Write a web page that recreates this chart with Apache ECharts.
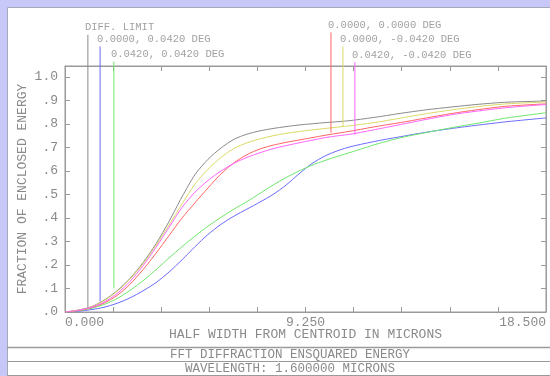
<!DOCTYPE html>
<html>
<head>
<meta charset="utf-8">
<script src="https://cdn.jsdelivr.net/npm/echarts@6/dist/echarts.min.js"></script>
<style>html,body{margin:0;padding:0;background:#c8c8f8;}#c{width:550px;height:376px;}</style>
</head>
<body>
<div id="c"></div>
<script>
// ---- data ----
const xValues   = [0, 0.5, 1, 1.5, 2, 2.5, 3, 3.5, 4, 4.5, 5, 5.5, 6, 6.5, 7, 7.5, 8, 8.5, 9, 9.5, 10, 10.5, 11, 12, 13, 14, 15, 16, 17, 18.5];
const diffLimit = [0, 0.008, 0.022, 0.05, 0.09, 0.143, 0.21, 0.29, 0.385, 0.49, 0.585, 0.65, 0.698, 0.735, 0.757, 0.771, 0.781, 0.789, 0.796, 0.801, 0.806, 0.81, 0.815, 0.83, 0.847, 0.862, 0.874, 0.885, 0.893, 0.898];
const field2    = [0, 0.003, 0.01, 0.02, 0.037, 0.06, 0.09, 0.125, 0.17, 0.222, 0.278, 0.33, 0.373, 0.408, 0.438, 0.468, 0.5, 0.54, 0.588, 0.632, 0.664, 0.687, 0.704, 0.728, 0.748, 0.767, 0.783, 0.797, 0.81, 0.826];
const field3    = [0, 0.005, 0.015, 0.032, 0.057, 0.092, 0.133, 0.18, 0.23, 0.278, 0.323, 0.365, 0.403, 0.438, 0.47, 0.505, 0.54, 0.572, 0.60, 0.625, 0.645, 0.663, 0.68, 0.715, 0.744, 0.766, 0.787, 0.806, 0.826, 0.848];
const field1    = [0, 0.006, 0.018, 0.038, 0.07, 0.118, 0.18, 0.25, 0.325, 0.40, 0.465, 0.528, 0.588, 0.635, 0.67, 0.694, 0.71, 0.722, 0.732, 0.742, 0.752, 0.761, 0.77, 0.79, 0.808, 0.828, 0.847, 0.863, 0.876, 0.886];
const field4    = [0, 0.008, 0.021, 0.048, 0.087, 0.14, 0.205, 0.283, 0.37, 0.46, 0.545, 0.608, 0.658, 0.696, 0.72, 0.737, 0.75, 0.76, 0.768, 0.775, 0.781, 0.787, 0.793, 0.808, 0.827, 0.846, 0.862, 0.876, 0.886, 0.894];
const field5    = [0, 0.007, 0.02, 0.042, 0.078, 0.13, 0.197, 0.275, 0.36, 0.445, 0.51, 0.56, 0.60, 0.633, 0.658, 0.678, 0.695, 0.708, 0.72, 0.731, 0.742, 0.75, 0.757, 0.778, 0.80, 0.822, 0.842, 0.857, 0.87, 0.883];

const seriesNames = ['DIFF. LIMIT', '0.0000, 0.0420 DEG', '0.0420, 0.0420 DEG', '0.0000, 0.0000 DEG', '0.0000, -0.0420 DEG', '0.0420, -0.0420 DEG'];
const seriesColors = ['#8a8a8a', '#6b6bff', '#6ee66e', '#ff6464', '#dada66', '#ff64ff'];
const seriesValues = [diffLimit, field2, field3, field1, field4, field5];

// leader lines for the labels
const leaderX      = [0.88, 1.35, 1.88, 10.23, 10.69, 11.15];
const leaderBottom = [0.02, 0.045, 0.10, 0.763, 0.79, 0.755];
const leaderTop    = [1.18, 1.13, 1.066, 1.19, 1.13, 1.063];

const xTickValues = [0, 9.25, 18.5];
const xTickLabels = ['0.000', '9.250', '18.500'];
const yTickValues = [0, 0.1, 0.2, 0.3, 0.4, 0.5, 0.6, 0.7, 0.8, 0.9, 1.0];
const yTickLabels = ['.0', '.1', '.2', '.3', '.4', '.5', '.6', '.7', '.8', '.9', '1.0'];

const xTitle = 'HALF WIDTH FROM CENTROID IN MICRONS';
const yTitle = 'FRACTION OF ENCLOSED ENERGY';
const footer1 = 'FFT DIFFRACTION ENSQUARED ENERGY';
const footer2 = 'WAVELENGTH: 1.600000 MICRONS';

// ---- chart ----
const FONT = 'Liberation Mono';
const TXT = '#8a8a8a';
const FRAME = '#9a9a9a';

function pick(vals, labels, v) {
  for (let i = 0; i < vals.length; i++) if (Math.abs(vals[i] - v) < 1e-6) return labels[i];
  return '';
}

const curveSeries = seriesValues.map((arr, i) => ({
  type: 'line',
  name: seriesNames[i],
  data: xValues.map((x, j) => [x, arr[j]]),
  symbol: 'none',
  smooth: 0.25,
  lineStyle: { color: seriesColors[i], width: 1 },
  silent: true,
  z: 3
}));

const leaderSeries = leaderX.map((x, i) => ({
  type: 'line',
  data: [[x, leaderBottom[i]], [x, leaderTop[i]]],
  symbol: 'none',
  lineStyle: { color: seriesColors[i], width: 1 },
  clip: false,
  silent: true,
  z: 4
}));

const labelSeries = {
  type: 'scatter',
  data: leaderX.map((x, i) => ({ value: [x, leaderTop[i]], name: seriesNames[i] })),
  symbolSize: 2,
  itemStyle: { color: 'rgba(0,0,0,0)' },
  clip: false,
  silent: true,
  label: { show: true, formatter: p => p.name, position: 'top', align: 'left',
           distance: 1, offset: [-3, 0], color: TXT, fontFamily: FONT, fontSize: 10.5 },
  z: 5
};

function axisCommon() {
  return {
    axisLine: { show: true, onZero: false, lineStyle: { color: FRAME, width: 1 } },
    axisTick: { show: true, inside: true, length: 5, lineStyle: { color: FRAME } },
    splitLine: { show: false }
  };
}

const option = {
  animation: false,
  backgroundColor: '#c8c8f8',
  grid: { left: 65, right: 4, top: 66, bottom: 64, show: true, borderColor: FRAME, borderWidth: 1,
          backgroundColor: 'rgba(0,0,0,0)' },
  graphic: [
    { type: 'rect', z: -10, shape: { x: 7.5, y: 7.5, width: 560, height: 380 },
      style: { fill: '#ffffff', stroke: '#a8a8b8', lineWidth: 1 } },
    { type: 'line', shape: { x1: 7, y1: 347.5, x2: 550, y2: 347.5 }, style: { stroke: FRAME, lineWidth: 1.5 } },
    { type: 'line', shape: { x1: 7, y1: 361.5, x2: 550, y2: 361.5 }, style: { stroke: FRAME, lineWidth: 1 } },
    { type: 'line', shape: { x1: 7, y1: 375.5, x2: 550, y2: 375.5 }, style: { stroke: FRAME, lineWidth: 1 } },
    { type: 'text', x: 290, y: 354.5, style: { text: footer1, align: 'center', verticalAlign: 'middle',
      fill: TXT, font: '12.5px "' + FONT + '"' } },
    { type: 'text', x: 290, y: 368.5, style: { text: footer2, align: 'center', verticalAlign: 'middle',
      fill: TXT, font: '12.5px "' + FONT + '"' } }
  ],
  xAxis: [
    Object.assign(axisCommon(), {
      type: 'value', min: 0, max: 18.5, interval: 1.85, position: 'bottom',
      axisLabel: { formatter: v => pick(xTickValues, xTickLabels, v), alignMinLabel: 'left', alignMaxLabel: 'right',
                   margin: 4, color: TXT, fontFamily: FONT, fontSize: 13 },
      name: xTitle, nameLocation: 'middle', nameGap: 16, nameMoveOverlap: false,
      nameTextStyle: { color: TXT, fontFamily: FONT, fontSize: 13 }
    }),
    Object.assign(axisCommon(), {
      type: 'value', min: 0, max: 18.5, interval: 1.85, position: 'top',
      axisLabel: { show: false }
    })
  ],
  yAxis: [
    Object.assign(axisCommon(), {
      type: 'value', min: 0, max: 1.047, interval: 0.1, position: 'left',
      axisLabel: { formatter: v => pick(yTickValues, yTickLabels, v), margin: 7, color: TXT, fontFamily: FONT, fontSize: 13,
                   showMaxLabel: false },
      name: yTitle, nameLocation: 'middle', nameGap: 36, nameRotate: 90, nameMoveOverlap: false,
      nameTextStyle: { color: TXT, fontFamily: FONT, fontSize: 13 }
    }),
    Object.assign(axisCommon(), {
      type: 'value', min: 0, max: 1.047, interval: 0.1, position: 'right',
      axisLabel: { show: false }
    })
  ],
  series: curveSeries.concat(leaderSeries, [labelSeries])
};

const chart = echarts.init(document.getElementById('c'), null, { renderer: 'canvas' });
chart.setOption(option);
</script>
</body>
</html>
